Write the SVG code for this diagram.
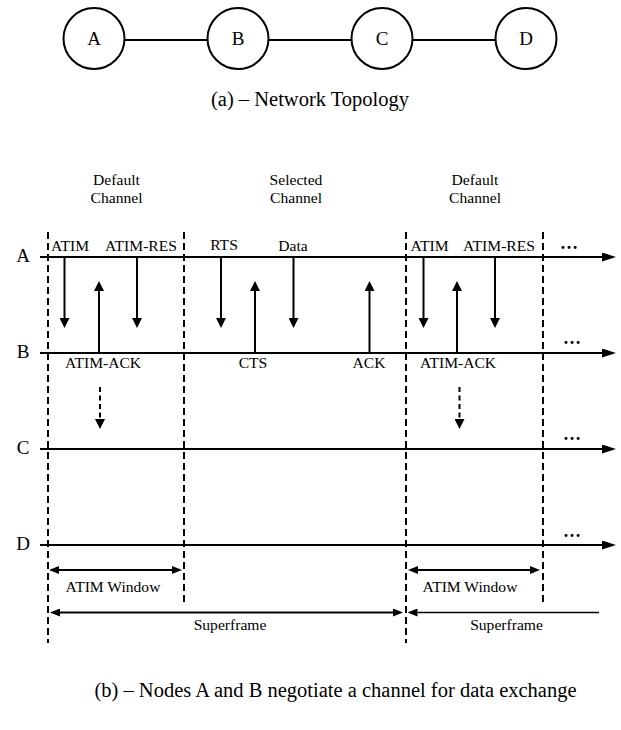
<svg xmlns="http://www.w3.org/2000/svg" width="621" height="730" viewBox="0 0 621 730" font-family="Liberation Serif, serif">
<style>
text{font-family:'Liberation Serif',serif;fill:#000}
.lbl{font-size:15.6px}
.node{font-size:19px}
.cap{font-size:20.5px}
.mid{text-anchor:middle}
.ln{stroke:#000;stroke-width:1.8;fill:none}
.msg{stroke:#000;stroke-width:2;fill:none}
.dash{stroke:#000;stroke-width:2;stroke-dasharray:7,4;fill:none}
.darr{stroke:#000;stroke-width:2;stroke-dasharray:5,3.5;fill:none}
.circ{fill:#fff;stroke:#000;stroke-width:2}
.dots{font-size:18px;font-weight:bold}
</style>
<defs>
<marker id="tl" viewBox="0 0 14 9" refX="0" refY="4.5" markerWidth="14" markerHeight="9" markerUnits="userSpaceOnUse" orient="auto-start-reverse"><path d="M0,0 L14,4.5 L0,9 z" fill="#000"/></marker>
<marker id="mh" viewBox="0 0 10 10" refX="0" refY="5" markerWidth="10" markerHeight="10" markerUnits="userSpaceOnUse" orient="auto-start-reverse"><path d="M0,0 L10,5 L0,10 z" fill="#000"/></marker>
<marker id="dh" viewBox="0 0 10 8" refX="0" refY="4" markerWidth="10" markerHeight="8" markerUnits="userSpaceOnUse" orient="auto-start-reverse"><path d="M0,0 L10,4 L0,8 z" fill="#000"/></marker>
</defs>

<!-- (a) topology -->
<g id="topo-links">
<line class="msg" x1="124.5" y1="40" x2="207.5" y2="40"/>
<line class="msg" x1="268.5" y1="40" x2="351.5" y2="40"/>
<line class="msg" x1="412.5" y1="40" x2="495.5" y2="40"/>
</g>
<g id="nodeA"><circle class="circ" cx="94" cy="38.5" r="30.5"/><text class="node mid" x="94" y="45">A</text></g>
<g id="nodeB"><circle class="circ" cx="238" cy="38.5" r="30.5"/><text class="node mid" x="238" y="45">B</text></g>
<g id="nodeC"><circle class="circ" cx="382" cy="38.5" r="30.5"/><text class="node mid" x="382" y="45">C</text></g>
<g id="nodeD"><circle class="circ" cx="526" cy="38.5" r="30.5"/><text class="node mid" x="526" y="45">D</text></g>
<text class="cap mid" x="310" y="106">(a) – Network Topology</text>

<!-- headers -->
<g id="headers">
<text class="lbl mid" x="116.5" y="185">Default</text>
<text class="lbl mid" x="116.5" y="203">Channel</text>
<text class="lbl mid" x="296" y="185">Selected</text>
<text class="lbl mid" x="296" y="203">Channel</text>
<text class="lbl mid" x="475" y="185">Default</text>
<text class="lbl mid" x="475" y="203">Channel</text>
</g>

<!-- timelines -->
<g id="timelines">
<text class="node mid" x="23" y="262">A</text>
<text class="node mid" x="23" y="358">B</text>
<text class="node mid" x="23" y="454">C</text>
<text class="node mid" x="23" y="550">D</text>
<line class="ln" x1="40" y1="257" x2="602" y2="257" marker-end="url(#tl)"/>
<line class="ln" x1="40" y1="353" x2="602" y2="353" marker-end="url(#tl)"/>
<line class="ln" x1="40" y1="449" x2="602" y2="449" marker-end="url(#tl)"/>
<line class="ln" x1="40" y1="545" x2="602" y2="545" marker-end="url(#tl)"/>
<text class="dots mid" x="569" y="249">…</text>
<text class="dots mid" x="572" y="344">…</text>
<text class="dots mid" x="572" y="440">…</text>
<text class="dots mid" x="572" y="537">…</text>
</g>

<!-- channel boundaries -->
<g id="boundaries">
<line class="dash" x1="48" y1="232" x2="48" y2="643"/>
<line class="dash" x1="184" y1="232" x2="184" y2="604"/>
<line class="dash" x1="406" y1="232" x2="406" y2="643"/>
<line class="dash" x1="543" y1="232" x2="543" y2="604"/>
</g>

<!-- messages -->
<g id="connectors">
<line class="msg" x1="64.5" y1="257" x2="64.5" y2="318" marker-end="url(#mh)"/>
<line class="msg" x1="99" y1="353" x2="99" y2="291" marker-end="url(#mh)"/>
<line class="msg" x1="137" y1="257" x2="137" y2="318" marker-end="url(#mh)"/>
<line class="msg" x1="221" y1="257" x2="221" y2="318" marker-end="url(#mh)"/>
<line class="msg" x1="255" y1="353" x2="255" y2="291" marker-end="url(#mh)"/>
<line class="msg" x1="293.5" y1="257" x2="293.5" y2="318" marker-end="url(#mh)"/>
<line class="msg" x1="369.5" y1="353" x2="369.5" y2="291" marker-end="url(#mh)"/>
<line class="msg" x1="423.5" y1="257" x2="423.5" y2="318" marker-end="url(#mh)"/>
<line class="msg" x1="457" y1="353" x2="457" y2="291" marker-end="url(#mh)"/>
<line class="msg" x1="495" y1="257" x2="495" y2="318" marker-end="url(#mh)"/>
<line class="darr" x1="100" y1="387" x2="100" y2="419" marker-end="url(#mh)"/>
<line class="darr" x1="459.5" y1="387" x2="459.5" y2="419" marker-end="url(#mh)"/>
<line class="msg" x1="59" y1="570" x2="172" y2="570" marker-start="url(#dh)" marker-end="url(#dh)"/>
<line class="msg" x1="418" y1="570" x2="530" y2="570" marker-start="url(#dh)" marker-end="url(#dh)"/>
<line class="msg" x1="60" y1="612.5" x2="393" y2="612.5" marker-start="url(#dh)" marker-end="url(#dh)"/>
<line class="ln" style="stroke-width:1.5" x1="417.5" y1="612.5" x2="599" y2="612.5" marker-start="url(#dh)"/>
</g>

<!-- message labels -->
<g id="labels">
<text class="lbl" x="51" y="251">ATIM</text>
<text class="lbl mid" x="141" y="251">ATIM-RES</text>
<text class="lbl mid" x="224" y="250">RTS</text>
<text class="lbl mid" x="293" y="251">Data</text>
<text class="lbl mid" x="429.5" y="251">ATIM</text>
<text class="lbl mid" x="499" y="251">ATIM-RES</text>
<text class="lbl mid" x="103" y="368">ATIM-ACK</text>
<text class="lbl mid" x="253" y="368">CTS</text>
<text class="lbl mid" x="369" y="368">ACK</text>
<text class="lbl mid" x="458" y="368">ATIM-ACK</text>
<text class="lbl mid" x="113" y="591.5">ATIM Window</text>
<text class="lbl mid" x="470" y="591.5">ATIM Window</text>
<text class="lbl mid" x="230" y="629.5">Superframe</text>
<text class="lbl mid" x="506.5" y="629.5">Superframe</text>
</g>

<text class="cap mid" x="335.5" y="697">(b) – Nodes A and B negotiate a channel for data exchange</text>
</svg>
